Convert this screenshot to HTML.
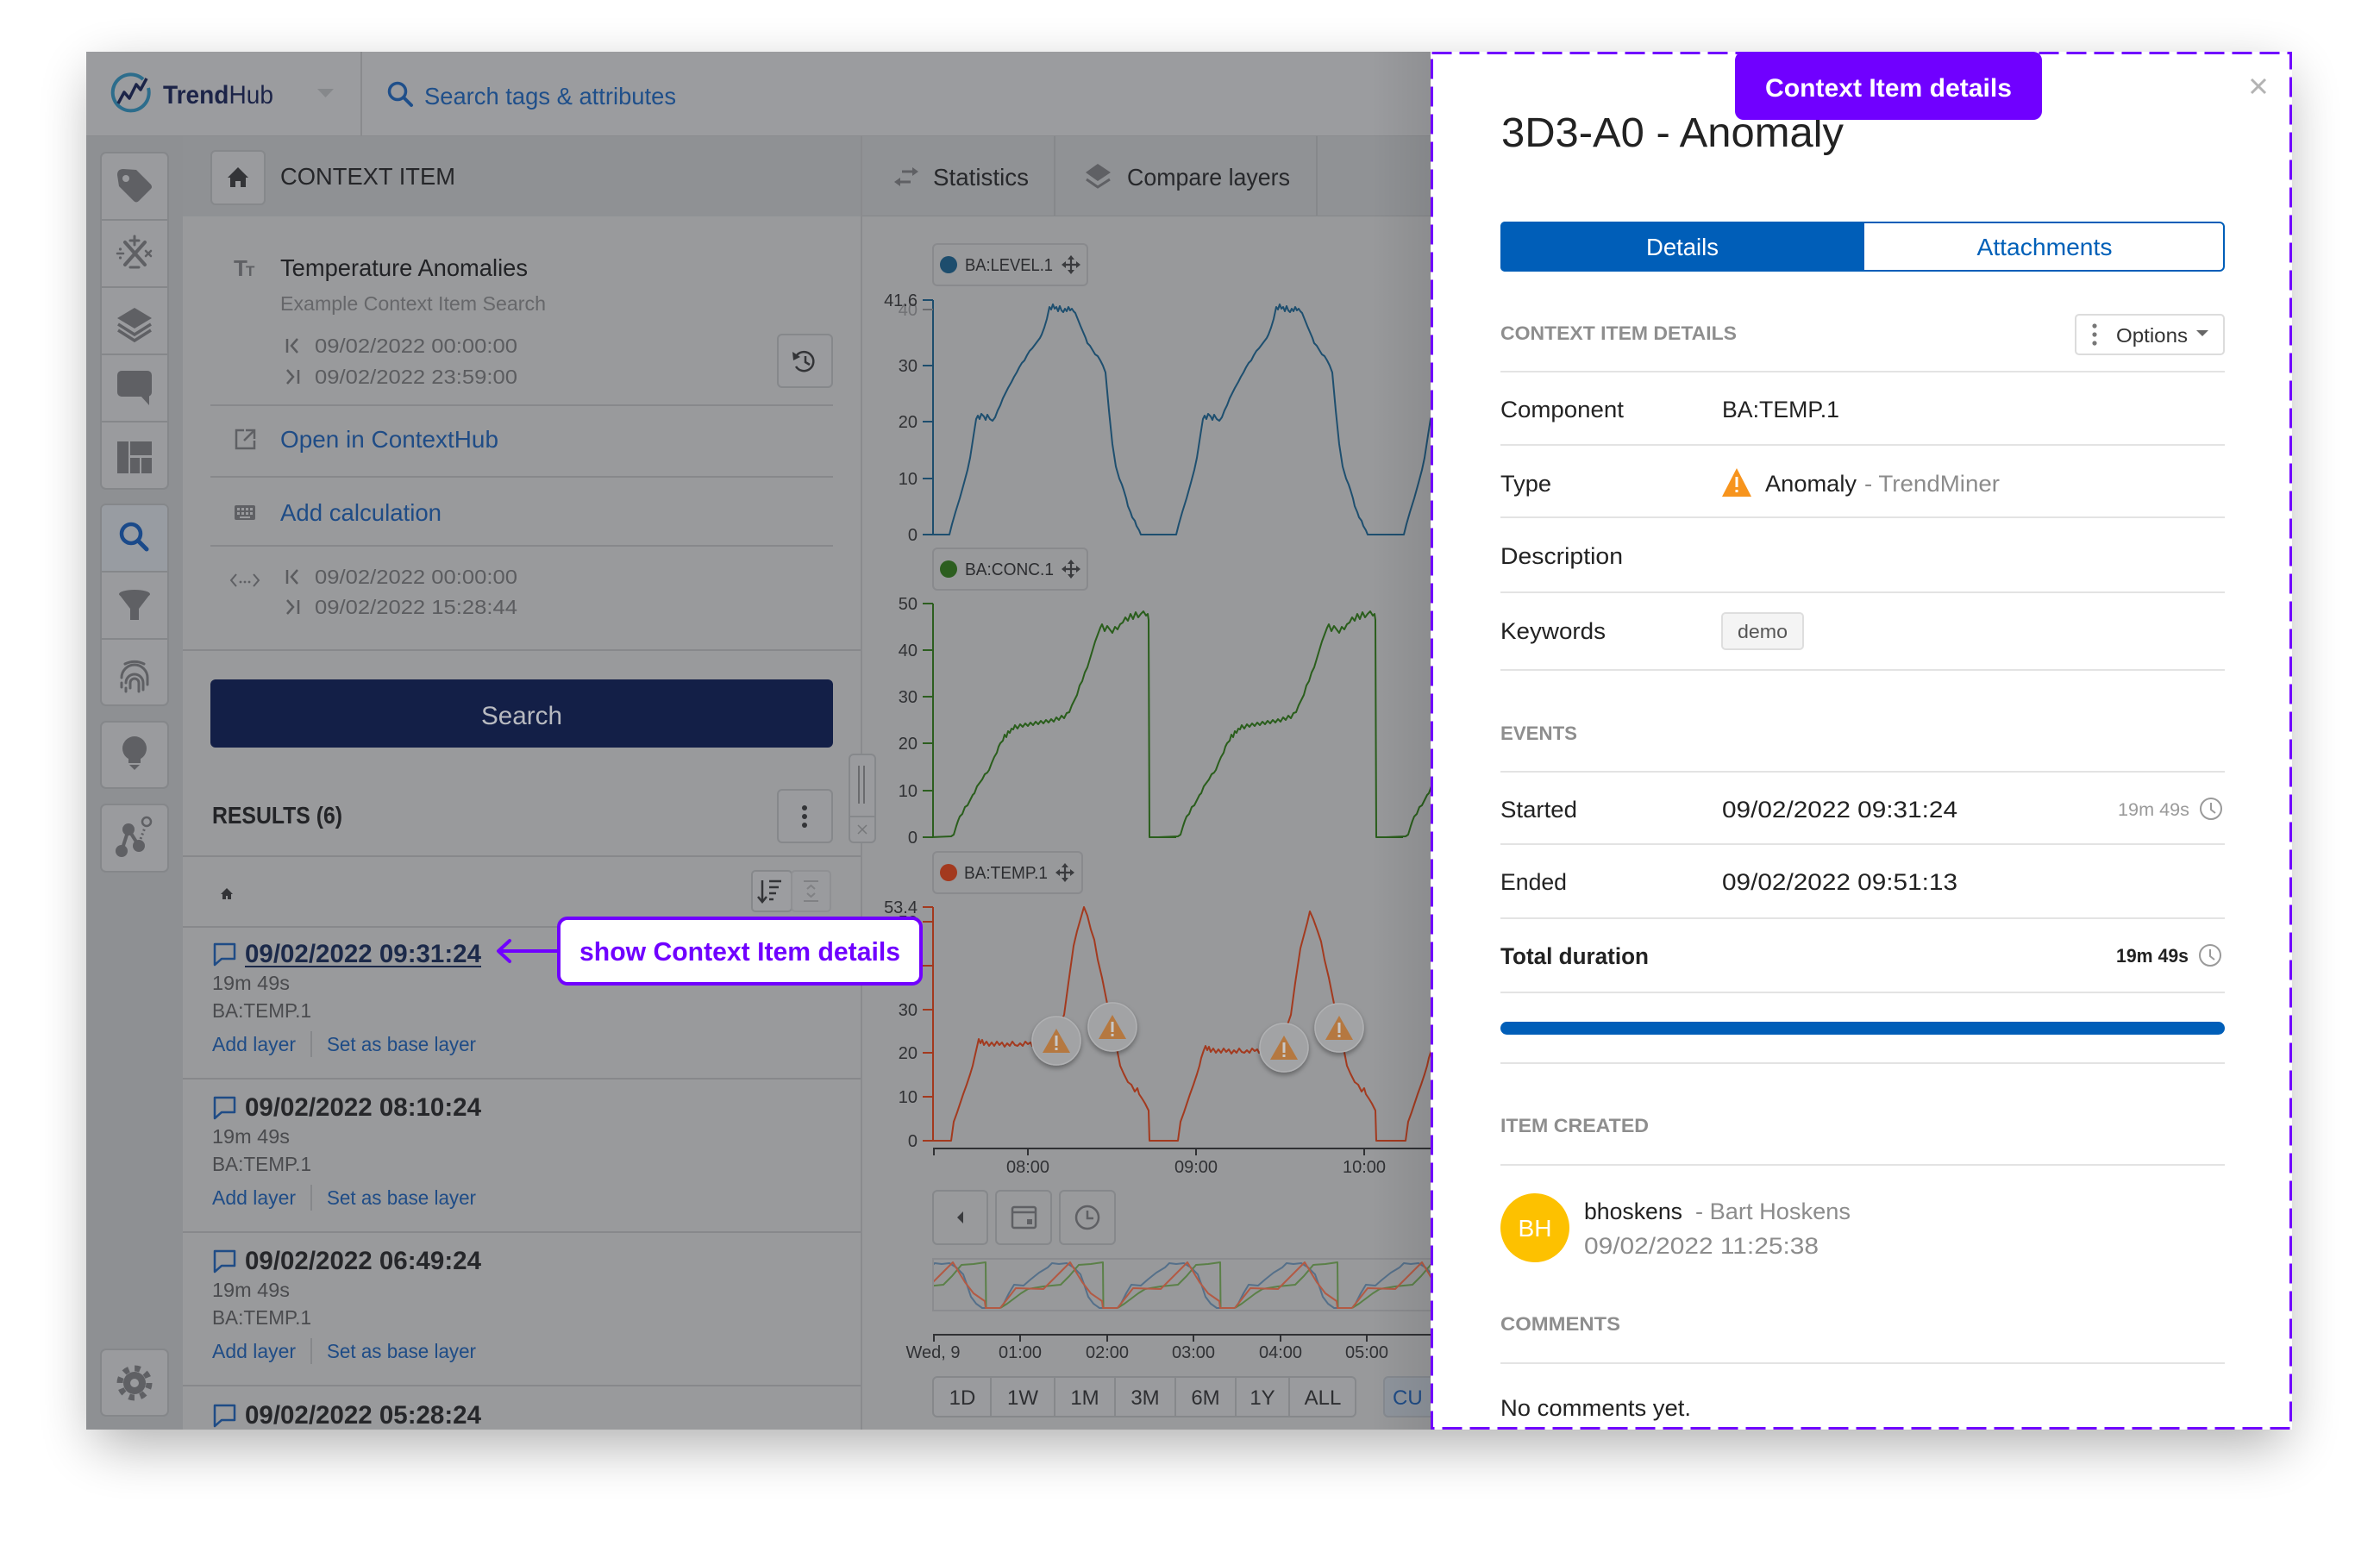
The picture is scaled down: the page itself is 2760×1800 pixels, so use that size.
<!DOCTYPE html>
<html><head><meta charset="utf-8">
<style>
html,body{margin:0;padding:0;background:#fff;}
svg{display:block;font-family:"Liberation Sans",sans-serif;}
</style></head><body>
<svg width="2760" height="1800" viewBox="0 0 2760 1800" xmlns="http://www.w3.org/2000/svg">
<defs>
<filter id="wsh" x="-10%" y="-10%" width="120%" height="130%"><feGaussianBlur stdDeviation="32"/></filter>
<filter id="msh" x="-50%" y="-50%" width="200%" height="200%"><feDropShadow dx="0" dy="3" stdDeviation="3" flood-color="#000" flood-opacity="0.35"/></filter>
<clipPath id="cc"><rect x="1000" y="251" width="659" height="1407"/></clipPath>
<clipPath id="nc"><rect x="1083" y="1461" width="576" height="58"/></clipPath>
<linearGradient id="pg" x1="0" x2="1" y1="0" y2="0"><stop offset="0" stop-color="#000" stop-opacity="0"/><stop offset="1" stop-color="#000" stop-opacity="0.08"/></linearGradient>
</defs>

<!-- window shadow -->
<rect x="110" y="85" width="2540" height="1590" fill="#000" opacity="0.32" filter="url(#wsh)"/>

<!-- ===== TOP BAR ===== -->
<rect x="100" y="60" width="1559" height="98" fill="#9b9c9f"/>
<line x1="100" y1="158" x2="1659" y2="158" stroke="#8b8c8f" stroke-width="2"/>
<path d="M166,92 A21,21 0 1 0 172,102" stroke="#2d6d8c" stroke-width="4" fill="none"/>
<polyline points="137,120 144,107 150,114 158,98 163,104 170,91" stroke="#1c2448" stroke-width="3.5" fill="none" stroke-linejoin="round"/>
<text x="189" y="120" font-size="30" fill="#1c2448" textLength="128" lengthAdjust="spacingAndGlyphs"><tspan font-weight="bold">Trend</tspan>Hub</text>
<polygon points="368,103 387,103 377.5,113" fill="#86888b"/>
<line x1="419" y1="60" x2="419" y2="158" stroke="#8a8b8e" stroke-width="2"/>
<circle cx="461" cy="106" r="9.5" stroke="#1f4f8a" stroke-width="3.5" fill="none"/>
<line x1="468" y1="113" x2="477" y2="122" stroke="#1f4f8a" stroke-width="4" stroke-linecap="round"/>
<text x="492" y="121" font-size="28" fill="#1f4f8a" textLength="292" lengthAdjust="spacingAndGlyphs">Search tags &amp; attributes</text>

<!-- ===== SIDEBAR ===== -->
<rect x="100" y="158" width="112" height="1500" fill="#8e9093"/>
<rect x="117" y="177" width="78" height="390" rx="6" fill="#9a9b9e" stroke="#85878a" stroke-width="2"/>
<g stroke="#85878a" stroke-width="2"><line x1="117" y1="255" x2="195" y2="255"/><line x1="117" y1="333" x2="195" y2="333"/><line x1="117" y1="411" x2="195" y2="411"/><line x1="117" y1="489" x2="195" y2="489"/></g>
<rect x="117" y="585" width="78" height="233" rx="6" fill="#9a9b9e" stroke="#85878a" stroke-width="2"/>
<path d="M118,663 L118,591 Q118,586 123,586 L189,586 Q194,586 194,591 L194,663 Z" fill="#989ca2"/>
<g stroke="#85878a" stroke-width="2"><line x1="117" y1="663" x2="195" y2="663"/><line x1="117" y1="741" x2="195" y2="741"/></g>
<rect x="117" y="837" width="78" height="77" rx="6" fill="#9a9b9e" stroke="#85878a" stroke-width="2"/>
<rect x="117" y="933" width="78" height="78" rx="6" fill="#9a9b9e" stroke="#85878a" stroke-width="2"/>
<rect x="117" y="1565" width="78" height="77" rx="6" fill="#9a9b9e" stroke="#85878a" stroke-width="2"/>
<!-- icons -->
<g fill="#5f6064">
<path d="M136,203 Q136,196 143,196 L158,197 L175,214 Q177,217 175,219 L161,233 Q158,236 155,233 L138,216 Z"/>
<circle cx="146" cy="207" r="4" fill="#9a9b9e"/>
</g>
<g stroke="#5f6064" stroke-width="4" stroke-linecap="round">
<line x1="145" y1="281" x2="168" y2="307"/><line x1="168" y1="281" x2="145" y2="307"/>
<line x1="156" y1="274" x2="156" y2="284" stroke-width="3"/><line x1="151" y1="279" x2="161" y2="279" stroke-width="3"/>
<line x1="151" y1="310" x2="161" y2="310" stroke-width="3"/>
<line x1="169" y1="291" x2="175" y2="297" stroke-width="2.5"/><line x1="175" y1="291" x2="169" y2="297" stroke-width="2.5"/>
<line x1="136" y1="294" x2="143" y2="294" stroke-width="2.5"/>
</g>
<circle cx="139.5" cy="289" r="1.6" fill="#5f6064"/><circle cx="139.5" cy="299" r="1.6" fill="#5f6064"/>
<polygon points="136,369 156,357 176,369 156,381" fill="#5f6064"/>
<polyline points="137,376 156,388 175,376" stroke="#5f6064" stroke-width="3.5" fill="none"/>
<polyline points="137,383 156,395 175,383" stroke="#5f6064" stroke-width="3.5" fill="none"/>
<rect x="136" y="430" width="40" height="30" rx="5" fill="#5f6064"/>
<polygon points="163,459 173,459 173,470" fill="#5f6064"/>
<g fill="#5f6064"><rect x="136" y="512" width="13" height="37"/><rect x="151" y="512" width="25" height="16"/><rect x="151" y="531" width="11" height="18"/><rect x="164" y="531" width="12" height="18"/></g>
<circle cx="152" cy="619" r="11" stroke="#1b4a8a" stroke-width="4.5" fill="none"/>
<line x1="160" y1="627" x2="170" y2="637" stroke="#1b4a8a" stroke-width="5" stroke-linecap="round"/>
<ellipse cx="156" cy="689" rx="18" ry="5" fill="#5f6064"/>
<polygon points="138,689 174,689 161,706 161,719 151,719 151,706" fill="#5f6064"/>
<path d="M141,786 a15,15 0 0 1 30,0 v8 M146,792 a10,10 0 0 1 20,0 v8 M151,798 v-6 a5,5 0 0 1 10,0 v10 M141,792 v5 M146,798 v4 M145,770 a20,16 0 0 1 22,0" stroke="#5f6064" stroke-width="3" fill="none" stroke-linecap="round"/>
<circle cx="156" cy="868" r="14" fill="#5f6064"/><rect x="149" y="879" width="14" height="6" fill="#5f6064"/><polygon points="150,887 162,887 156,893" fill="#5f6064"/>
<g stroke="#5f6064" stroke-width="4"><line x1="141" y1="987" x2="149" y2="962"/><line x1="149" y1="962" x2="161" y2="981"/></g>
<g fill="#5f6064"><circle cx="141" cy="987" r="7"/><circle cx="149" cy="962" r="7"/><circle cx="161" cy="981" r="7"/></g>
<circle cx="170" cy="953" r="5" stroke="#5f6064" stroke-width="2.5" fill="none"/>
<line x1="163" y1="973" x2="168" y2="960" stroke="#5f6064" stroke-width="3" stroke-dasharray="2 3"/>
<circle cx="156" cy="1604" r="17" stroke="#5f6064" stroke-width="7" fill="none" stroke-dasharray="6.5 6.85"/>
<circle cx="156" cy="1604" r="13" fill="#5f6064"/><circle cx="156" cy="1604" r="5" fill="#9a9b9e"/>

<!-- ===== CONTEXT HEADER ===== -->
<rect x="212" y="158" width="788" height="93" fill="#8f9194"/>
<rect x="245" y="175" width="62" height="62" rx="5" fill="#9a9b9e" stroke="#86888b" stroke-width="2"/>
<polygon points="264,206 276,194 288,206 285,206 285,217 279,217 279,210 273,210 273,217 267,217 267,206" fill="#333437"/>
<text x="325" y="214" font-size="28" fill="#252629" textLength="203" lengthAdjust="spacingAndGlyphs">CONTEXT ITEM</text>

<!-- ===== LEFT PANEL CONTENT ===== -->
<rect x="212" y="251" width="788" height="1407" fill="#999a9c"/>
<line x1="999" y1="158" x2="999" y2="1658" stroke="#8a8b8e" stroke-width="2"/>
<text x="271" y="320" font-size="26" font-weight="bold" fill="#5f6064">T</text><text x="285" y="320" font-size="17" font-weight="bold" fill="#5f6064">T</text>
<text x="325" y="320" font-size="28" fill="#222326" textLength="287" lengthAdjust="spacingAndGlyphs">Temperature Anomalies</text>
<text x="325" y="360" font-size="23" fill="#66676a" textLength="308" lengthAdjust="spacingAndGlyphs">Example Context Item Search</text>
<g stroke="#5b5c5f" stroke-width="2.5" fill="none">
<line x1="333" y1="393" x2="333" y2="409"/><polyline points="345,393 338,401 345,409"/>
<polyline points="333,429 340,437 333,445"/><line x1="346" y1="429" x2="346" y2="445"/>
<line x1="333" y1="661" x2="333" y2="677"/><polyline points="345,661 338,669 345,677"/>
<polyline points="333,696 340,704 333,712"/><line x1="346" y1="696" x2="346" y2="712"/>
</g>
<g font-size="23" fill="#5b5c5f">
<text x="365" y="409" textLength="235" lengthAdjust="spacingAndGlyphs">09/02/2022 00:00:00</text>
<text x="365" y="445" textLength="235" lengthAdjust="spacingAndGlyphs">09/02/2022 23:59:00</text>
<text x="365" y="677" textLength="235" lengthAdjust="spacingAndGlyphs">09/02/2022 00:00:00</text>
<text x="365" y="712" textLength="235" lengthAdjust="spacingAndGlyphs">09/02/2022 15:28:44</text>
</g>
<rect x="902" y="388" width="63" height="61" rx="5" fill="#9a9b9e" stroke="#86888b" stroke-width="2"/>
<path d="M924,412 A11,11 0 1 1 923,425" stroke="#333437" stroke-width="2.5" fill="none"/>
<polygon points="919,408 928,414 920,418" fill="#333437"/>
<polyline points="934,413 934,420 939,423" stroke="#333437" stroke-width="2.5" fill="none"/>
<g stroke="#87888b" stroke-width="2"><line x1="244" y1="470" x2="966" y2="470"/><line x1="244" y1="553" x2="966" y2="553"/><line x1="244" y1="633" x2="966" y2="633"/><line x1="212" y1="754" x2="1000" y2="754"/></g>
<path d="M283,499 L274,499 L274,520 L295,520 L295,511" stroke="#5f6064" stroke-width="2.5" fill="none"/>
<polyline points="285,499 295,499 295,509" stroke="#5f6064" stroke-width="2.5" fill="none"/><line x1="295" y1="499" x2="283" y2="511" stroke="#5f6064" stroke-width="2.5"/>
<text x="325" y="519" font-size="28" fill="#1f4c86" textLength="253" lengthAdjust="spacingAndGlyphs">Open in ContextHub</text>
<rect x="272" y="586" width="24" height="17" rx="2" fill="#5f6064"/>
<g fill="#9a9b9e"><rect x="275" y="589" width="3" height="3"/><rect x="280" y="589" width="3" height="3"/><rect x="285" y="589" width="3" height="3"/><rect x="290" y="589" width="3" height="3"/><rect x="275" y="594" width="3" height="3"/><rect x="280" y="594" width="3" height="3"/><rect x="285" y="594" width="3" height="3"/><rect x="290" y="594" width="3" height="3"/><rect x="278" y="599" width="12" height="2"/></g>
<text x="325" y="604" font-size="28" fill="#1f4c86" textLength="187" lengthAdjust="spacingAndGlyphs">Add calculation</text>
<polyline points="274,666 268,673 274,680" stroke="#5f6064" stroke-width="2" fill="none"/><polyline points="294,666 300,673 294,680" stroke="#5f6064" stroke-width="2" fill="none"/>
<g fill="#5f6064"><circle cx="279" cy="675" r="1.4"/><circle cx="284" cy="675" r="1.4"/><circle cx="289" cy="675" r="1.4"/></g>
<rect x="244" y="788" width="722" height="79" rx="6" fill="#131f47"/>
<text x="605" y="840" font-size="30" fill="#b8bac0" text-anchor="middle" textLength="94" lengthAdjust="spacingAndGlyphs">Search</text>
<text x="246" y="955" font-size="28" font-weight="bold" fill="#232427" textLength="151" lengthAdjust="spacingAndGlyphs">RESULTS (6)</text>
<rect x="902" y="916" width="63" height="61" rx="5" fill="#9a9b9e" stroke="#86888b" stroke-width="2"/>
<g fill="#333437"><circle cx="933" cy="937" r="3"/><circle cx="933" cy="947" r="3"/><circle cx="933" cy="957" r="3"/></g>
<line x1="212" y1="993" x2="1000" y2="993" stroke="#87888b" stroke-width="2"/>
<polygon points="256,1037 263,1030 270,1037 268,1037 268,1043 264,1043 264,1039 262,1039 262,1043 258,1043 258,1037" fill="#333437"/>
<rect x="872" y="1010" width="46" height="47" rx="4" fill="#9c9da0" stroke="#86888b" stroke-width="2"/>
<rect x="918" y="1010" width="45" height="47" rx="4" fill="#9a9b9e" stroke="#8f9093" stroke-width="2"/>
<g stroke="#333437" stroke-width="2.5"><line x1="884" y1="1021" x2="884" y2="1046"/><polyline points="879,1040 884,1046 889,1040" fill="none"/><line x1="892" y1="1022" x2="906" y2="1022"/><line x1="892" y1="1029" x2="903" y2="1029"/><line x1="892" y1="1036" x2="900" y2="1036"/><line x1="892" y1="1043" x2="897" y2="1043"/></g>
<g stroke="#808184" stroke-width="2"><line x1="932" y1="1022" x2="949" y2="1022"/><line x1="932" y1="1045" x2="949" y2="1045"/><polyline points="936,1031 940.5,1027 945,1031" fill="none"/><polyline points="936,1036 940.5,1040 945,1036" fill="none"/></g>
<line x1="212" y1="1075" x2="1000" y2="1075" stroke="#87888b" stroke-width="2"/>

<!-- result rows -->
<g stroke="#87888b" stroke-width="2"><line x1="212" y1="1251" x2="1000" y2="1251"/><line x1="212" y1="1429" x2="1000" y2="1429"/><line x1="212" y1="1607" x2="1000" y2="1607"/></g>
<g>
<path d="M249,1095 h23 v17 h-15 l-8,7 z" stroke="#1f4c86" stroke-width="2.5" fill="none" stroke-linejoin="round"/>
<text x="284" y="1116" font-size="30" font-weight="bold" fill="#1c2a4a" textLength="274" lengthAdjust="spacingAndGlyphs">09/02/2022 09:31:24</text>
<line x1="284" y1="1121" x2="558" y2="1121" stroke="#1c2a4a" stroke-width="2"/>
<text x="246" y="1148" font-size="23" fill="#4a4b4e" textLength="90" lengthAdjust="spacingAndGlyphs">19m 49s</text>
<text x="246" y="1180" font-size="23" fill="#4a4b4e" textLength="115" lengthAdjust="spacingAndGlyphs">BA:TEMP.1</text>
<text x="246" y="1219" font-size="23" fill="#1f4c86" textLength="97" lengthAdjust="spacingAndGlyphs">Add layer</text>
<line x1="361" y1="1196" x2="361" y2="1226" stroke="#86888b" stroke-width="2"/>
<text x="379" y="1219" font-size="23" fill="#1f4c86" textLength="173" lengthAdjust="spacingAndGlyphs">Set as base layer</text>
</g>
<g transform="translate(0,178)">
<path d="M249,1095 h23 v17 h-15 l-8,7 z" stroke="#1f4c86" stroke-width="2.5" fill="none" stroke-linejoin="round"/>
<text x="284" y="1116" font-size="30" font-weight="bold" fill="#26272a" textLength="274" lengthAdjust="spacingAndGlyphs">09/02/2022 08:10:24</text>
<text x="246" y="1148" font-size="23" fill="#4a4b4e" textLength="90" lengthAdjust="spacingAndGlyphs">19m 49s</text>
<text x="246" y="1180" font-size="23" fill="#4a4b4e" textLength="115" lengthAdjust="spacingAndGlyphs">BA:TEMP.1</text>
<text x="246" y="1219" font-size="23" fill="#1f4c86" textLength="97" lengthAdjust="spacingAndGlyphs">Add layer</text>
<line x1="361" y1="1196" x2="361" y2="1226" stroke="#86888b" stroke-width="2"/>
<text x="379" y="1219" font-size="23" fill="#1f4c86" textLength="173" lengthAdjust="spacingAndGlyphs">Set as base layer</text>
</g>
<g transform="translate(0,356)">
<path d="M249,1095 h23 v17 h-15 l-8,7 z" stroke="#1f4c86" stroke-width="2.5" fill="none" stroke-linejoin="round"/>
<text x="284" y="1116" font-size="30" font-weight="bold" fill="#26272a" textLength="274" lengthAdjust="spacingAndGlyphs">09/02/2022 06:49:24</text>
<text x="246" y="1148" font-size="23" fill="#4a4b4e" textLength="90" lengthAdjust="spacingAndGlyphs">19m 49s</text>
<text x="246" y="1180" font-size="23" fill="#4a4b4e" textLength="115" lengthAdjust="spacingAndGlyphs">BA:TEMP.1</text>
<text x="246" y="1219" font-size="23" fill="#1f4c86" textLength="97" lengthAdjust="spacingAndGlyphs">Add layer</text>
<line x1="361" y1="1196" x2="361" y2="1226" stroke="#86888b" stroke-width="2"/>
<text x="379" y="1219" font-size="23" fill="#1f4c86" textLength="173" lengthAdjust="spacingAndGlyphs">Set as base layer</text>
</g>
<g transform="translate(0,535)">
<path d="M249,1095 h23 v17 h-15 l-8,7 z" stroke="#1f4c86" stroke-width="2.5" fill="none" stroke-linejoin="round"/>
<text x="284" y="1116" font-size="30" font-weight="bold" fill="#26272a" textLength="274" lengthAdjust="spacingAndGlyphs">09/02/2022 05:28:24</text>
</g>

<!-- ===== TABS BAR (chart top) ===== -->
<rect x="1000" y="158" width="659" height="93" fill="#909295"/>
<line x1="1000" y1="251" x2="1659" y2="251" stroke="#85878a" stroke-width="2"/>
<line x1="1223" y1="158" x2="1223" y2="251" stroke="#86888b" stroke-width="2"/>
<line x1="1527" y1="158" x2="1527" y2="251" stroke="#86888b" stroke-width="2"/>
<g stroke="#5f6064" stroke-width="3" fill="#5f6064">
<line x1="1046" y1="199" x2="1060" y2="199"/><polygon points="1058,194 1065,199 1058,204" stroke="none"/>
<line x1="1042" y1="211" x2="1056" y2="211"/><polygon points="1044,206 1037,211 1044,216" stroke="none"/>
</g>
<text x="1082" y="215" font-size="28" fill="#27282b" textLength="111" lengthAdjust="spacingAndGlyphs">Statistics</text>
<polygon points="1259,200 1273,190 1288,200 1273,210" fill="#5f6064"/>
<polyline points="1260,208 1273,217 1287,208" stroke="#5f6064" stroke-width="3" fill="none"/>
<text x="1307" y="215" font-size="28" fill="#27282b" textLength="189" lengthAdjust="spacingAndGlyphs">Compare layers</text>

<!-- ===== CHART AREA ===== -->
<rect x="1000" y="251" width="659" height="1407" fill="#98999b"/>
<line x1="999" y1="251" x2="999" y2="1658" stroke="#8a8b8e" stroke-width="2"/>
<!-- chips -->
<g fill="none" stroke="#898a8d" stroke-width="2">
<rect x="1082" y="283" width="179" height="48" rx="5"/>
<rect x="1082" y="636" width="179" height="48" rx="5"/>
<rect x="1082" y="988" width="173" height="48" rx="5"/>
</g>
<circle cx="1100" cy="307" r="10" fill="#1d4d6d"/>
<circle cx="1100" cy="660" r="10" fill="#2c5e1f"/>
<circle cx="1100" cy="1012" r="10" fill="#a3391e"/>
<g font-size="20" fill="#2c2d30">
<text x="1119" y="314" textLength="102" lengthAdjust="spacingAndGlyphs">BA:LEVEL.1</text>
<text x="1119" y="667" textLength="103" lengthAdjust="spacingAndGlyphs">BA:CONC.1</text>
<text x="1118" y="1019" textLength="97" lengthAdjust="spacingAndGlyphs">BA:TEMP.1</text>
</g>
<g stroke="#3a3b3e" stroke-width="2.2" fill="#3a3b3e">
<g transform="translate(1242,307)"><line x1="-9" y1="0" x2="9" y2="0"/><line x1="0" y1="-9" x2="0" y2="9"/><polygon points="-11,0 -6,-4 -6,4" stroke="none"/><polygon points="11,0 6,-4 6,4" stroke="none"/><polygon points="0,-11 -4,-6 4,-6" stroke="none"/><polygon points="0,11 -4,6 4,6" stroke="none"/></g>
<g transform="translate(1242,660)"><line x1="-9" y1="0" x2="9" y2="0"/><line x1="0" y1="-9" x2="0" y2="9"/><polygon points="-11,0 -6,-4 -6,4" stroke="none"/><polygon points="11,0 6,-4 6,4" stroke="none"/><polygon points="0,-11 -4,-6 4,-6" stroke="none"/><polygon points="0,11 -4,6 4,6" stroke="none"/></g>
<g transform="translate(1235,1012)"><line x1="-9" y1="0" x2="9" y2="0"/><line x1="0" y1="-9" x2="0" y2="9"/><polygon points="-11,0 -6,-4 -6,4" stroke="none"/><polygon points="11,0 6,-4 6,4" stroke="none"/><polygon points="0,-11 -4,-6 4,-6" stroke="none"/><polygon points="0,11 -4,6 4,6" stroke="none"/></g>
</g>

<!-- axes -->
<g stroke="#1d4d6d" stroke-width="2">
<line x1="1082" y1="348" x2="1082" y2="620"/>
<line x1="1070" y1="348" x2="1082" y2="348"/><line x1="1070" y1="424" x2="1082" y2="424"/><line x1="1070" y1="489" x2="1082" y2="489"/><line x1="1070" y1="555" x2="1082" y2="555"/><line x1="1070" y1="620" x2="1082" y2="620"/>
</g>
<line x1="1070" y1="359" x2="1082" y2="359" stroke="#6b6c6f" stroke-width="2"/>
<g stroke="#2c5e1f" stroke-width="2">
<line x1="1082" y1="700" x2="1082" y2="971"/>
<line x1="1070" y1="700" x2="1082" y2="700"/><line x1="1070" y1="754" x2="1082" y2="754"/><line x1="1070" y1="808" x2="1082" y2="808"/><line x1="1070" y1="862" x2="1082" y2="862"/><line x1="1070" y1="917" x2="1082" y2="917"/><line x1="1070" y1="971" x2="1082" y2="971"/>
</g>
<g stroke="#a3391e" stroke-width="2">
<line x1="1082" y1="1052" x2="1082" y2="1323"/>
<line x1="1070" y1="1052" x2="1082" y2="1052"/><line x1="1070" y1="1069" x2="1082" y2="1069"/><line x1="1070" y1="1120" x2="1082" y2="1120"/><line x1="1070" y1="1171" x2="1082" y2="1171"/><line x1="1070" y1="1221" x2="1082" y2="1221"/><line x1="1070" y1="1272" x2="1082" y2="1272"/><line x1="1070" y1="1323" x2="1082" y2="1323"/>
</g>
<g font-size="20" fill="#303134" text-anchor="end">
<text x="1064" y="366" fill="#707174">40</text>
<text x="1064" y="355">41.6</text>
<text x="1064" y="431">30</text><text x="1064" y="496">20</text><text x="1064" y="562">10</text><text x="1064" y="627">0</text>
<text x="1064" y="707">50</text><text x="1064" y="761">40</text><text x="1064" y="815">30</text><text x="1064" y="869">20</text><text x="1064" y="924">10</text><text x="1064" y="978">0</text>
<text x="1064" y="1059">53.4</text><text x="1064" y="1076">50</text><text x="1064" y="1127">40</text><text x="1064" y="1178">30</text><text x="1064" y="1228">20</text><text x="1064" y="1279">10</text><text x="1064" y="1330">0</text>
</g>

<!-- series -->
<g clip-path="url(#cc)" fill="none" stroke-width="2" stroke-linejoin="round">
<g stroke="#1e4f6f">
<path id="bl" transform="translate(1101,0)" d="M-19,620 L0,620 L3,608 L7,594 L12,578 L17,560 L21,545 L24,531 L28,505 L31,486 L33,482 L35,486 L37,480 L40,483 L42,487 L44,481 L47,486 L50,488 L53,484 L56,476 L59,470 L62,462 L65,456 L68,450 L72,443 L75,437 L78,432 L81,426 L84,421 L87,418 L90,412 L93,407 L96,404 L99,400 L102,396 L105,392 L107,388 L110,380 L113,370 L116,356 L118,359 L120,353 L122,358 L124,356 L126,361 L128,355 L130,360 L132,362 L134,358 L136,361 L138,356 L140,360 L142,358 L144,361 L146,363 L148,368 L150,373 L152,378 L155,385 L158,392 L160,398 L163,401 L166,406 L169,411 L172,413 L175,418 L178,424 L181,432 L185,476 L189,515 L193,541 L197,555 L200,562 L202,568 L205,578 L207,587 L210,594 L212,600 L215,604 L217,610 L220,615 L222,620 L263,620"/>
<path transform="translate(1364,0)" d="M-19,620 L0,620 L3,608 L7,594 L12,578 L17,560 L21,545 L24,531 L28,505 L31,486 L33,482 L35,486 L37,480 L40,483 L42,487 L44,481 L47,486 L50,488 L53,484 L56,476 L59,470 L62,462 L65,456 L68,450 L72,443 L75,437 L78,432 L81,426 L84,421 L87,418 L90,412 L93,407 L96,404 L99,400 L102,396 L105,392 L107,388 L110,380 L113,370 L116,356 L118,359 L120,353 L122,358 L124,356 L126,361 L128,355 L130,360 L132,362 L134,358 L136,361 L138,356 L140,360 L142,358 L144,361 L146,363 L148,368 L150,373 L152,378 L155,385 L158,392 L160,398 L163,401 L166,406 L169,411 L172,413 L175,418 L178,424 L181,432 L185,476 L189,515 L193,541 L197,555 L200,562 L202,568 L205,578 L207,587 L210,594 L212,600 L215,604 L217,610 L220,615 L222,620 L263,620"/>
<path transform="translate(1628,0)" d="M-19,620 L0,620 L3,608 L7,594 L12,578 L17,560 L21,545 L24,531 L28,505 L31,486 L33,482 L35,486 L37,480 L40,483"/>
</g>
<g stroke="#2a5e1c">
<path transform="translate(1101,0)" d="M-21,971 L2,970 L5,968 L8,958 L10,952 L12,947 L15,944 L18,936 L21,934 L24,928 L27,922 L29,920 L32,912 L35,908 L38,904 L41,898 L44,896 L46,893 L49,885 L52,878 L55,873 L57,866 L59,862 L62,859 L64,852 L66,855 L68,848 L70,850 L72,845 L74,846 L76,841 L79,845 L82,840 L85,843 L88,839 L91,842 L94,838 L97,841 L100,837 L103,840 L106,836 L109,839 L112,835 L115,838 L118,834 L121,837 L124,832 L127,835 L130,830 L133,833 L136,827 L139,826 L142,818 L145,812 L148,806 L151,795 L154,790 L157,780 L160,774 L163,764 L166,754 L169,744 L172,736 L175,728 L177,724 L180,732 L183,726 L186,730 L189,734 L192,727 L195,730 L198,724 L201,722 L204,716 L207,720 L210,712 L213,718 L216,710 L219,716 L222,712 L225,709 L228,714 L230,712 L231,719 L232,971 L263,971"/>
<path transform="translate(1364,0)" d="M-21,971 L2,970 L5,968 L8,958 L10,952 L12,947 L15,944 L18,936 L21,934 L24,928 L27,922 L29,920 L32,912 L35,908 L38,904 L41,898 L44,896 L46,893 L49,885 L52,878 L55,873 L57,866 L59,862 L62,859 L64,852 L66,855 L68,848 L70,850 L72,845 L74,846 L76,841 L79,845 L82,840 L85,843 L88,839 L91,842 L94,838 L97,841 L100,837 L103,840 L106,836 L109,839 L112,835 L115,838 L118,834 L121,837 L124,832 L127,835 L130,830 L133,833 L136,827 L139,826 L142,818 L145,812 L148,806 L151,795 L154,790 L157,780 L160,774 L163,764 L166,754 L169,744 L172,736 L175,728 L177,724 L180,732 L183,726 L186,730 L189,734 L192,727 L195,730 L198,724 L201,722 L204,716 L207,720 L210,712 L213,718 L216,710 L219,716 L222,712 L225,709 L228,714 L230,712 L231,719 L232,971 L263,971"/>
<path transform="translate(1628,0)" d="M-21,971 L2,970 L5,968 L8,958 L10,952 L12,947 L15,944 L18,936 L21,934 L24,928 L27,922 L29,920 L32,912 L35,908"/>
</g>
<g stroke="#a33a1f">
<path transform="translate(1101,0)" d="M-21,1323 L2,1323 L5,1301 L9,1290 L13,1278 L16,1269 L20,1258 L24,1246 L27,1236 L29,1227 L32,1214 L34,1205 L36,1210 L38,1206 L40,1212 L43,1208 L46,1213 L49,1209 L52,1213 L55,1208 L58,1212 L61,1209 L64,1214 L67,1210 L70,1213 L73,1208 L76,1212 L79,1213 L82,1210 L85,1213 L88,1208 L91,1211 L94,1209 L96,1213 L100,1208 L105,1210 L110,1206 L118,1200 L125,1195 L133,1177 L138,1140 L144,1097 L148,1080 L152,1066 L156,1052 L160,1062 L164,1078 L168,1090 L172,1113 L177,1134 L183,1164 L188,1185 L193,1210 L198,1236 L202,1245 L207,1255 L211,1258 L215,1266 L218,1262 L220,1269 L224,1275 L227,1280 L229,1284 L231,1288 L232,1323 L263,1323"/>
<path transform="translate(1364,0)" d="M-21,1323 L2,1323 L5,1301 L9,1290 L13,1278 L16,1269 L20,1258 L24,1246 L27,1236 L29,1227 L32,1218 L34,1213 L36,1218 L38,1214 L40,1220 L43,1216 L46,1221 L49,1217 L52,1221 L55,1216 L58,1220 L61,1217 L64,1222 L67,1218 L70,1221 L73,1216 L76,1220 L79,1221 L82,1218 L85,1221 L88,1216 L91,1219 L94,1217 L96,1221 L100,1216 L105,1218 L110,1214 L118,1208 L125,1200 L133,1177 L138,1140 L144,1100 L148,1085 L152,1070 L155,1057 L159,1066 L164,1080 L168,1092 L172,1113 L177,1134 L183,1164 L188,1185 L193,1210 L198,1236 L202,1245 L207,1255 L211,1258 L215,1266 L218,1262 L220,1269 L224,1275 L227,1280 L229,1284 L231,1288 L232,1323 L263,1323"/>
<path transform="translate(1628,0)" d="M-21,1323 L2,1323 L5,1301 L9,1290 L13,1278 L16,1269 L20,1258 L24,1246 L27,1236 L29,1227 L32,1218"/>
</g>
</g>

<!-- anomaly markers -->
<g filter="url(#msh)">
<circle cx="1225" cy="1207" r="28" fill="#a2a3a5" stroke="#b0b1b3" stroke-width="1.5"/>
<circle cx="1290" cy="1191" r="28" fill="#a2a3a5" stroke="#b0b1b3" stroke-width="1.5"/>
<circle cx="1489" cy="1215" r="28" fill="#a2a3a5" stroke="#b0b1b3" stroke-width="1.5"/>
<circle cx="1553" cy="1192" r="28" fill="#a2a3a5" stroke="#b0b1b3" stroke-width="1.5"/>
</g>
<g fill="#b57840">
<polygon points="1209,1221 1241,1221 1225,1193"/>
<polygon points="1274,1205 1306,1205 1290,1177"/>
<polygon points="1473,1229 1505,1229 1489,1201"/>
<polygon points="1537,1206 1569,1206 1553,1178"/>
</g>
<g fill="#c8c8c8">
<rect x="1223.5" y="1201" width="3" height="12"/><rect x="1223.5" y="1215" width="3" height="3"/>
<rect x="1288.5" y="1185" width="3" height="12"/><rect x="1288.5" y="1199" width="3" height="3"/>
<rect x="1487.5" y="1209" width="3" height="12"/><rect x="1487.5" y="1223" width="3" height="3"/>
<rect x="1551.5" y="1186" width="3" height="12"/><rect x="1551.5" y="1200" width="3" height="3"/>
</g>

<!-- x axis -->
<line x1="1082" y1="1332" x2="1659" y2="1332" stroke="#303134" stroke-width="2"/>
<g stroke="#303134" stroke-width="2"><line x1="1083" y1="1332" x2="1083" y2="1340"/><line x1="1192" y1="1332" x2="1192" y2="1340"/><line x1="1387" y1="1332" x2="1387" y2="1340"/><line x1="1582" y1="1332" x2="1582" y2="1340"/></g>
<g font-size="20" fill="#303134" text-anchor="middle"><text x="1192" y="1360">08:00</text><text x="1387" y="1360">09:00</text><text x="1582" y="1360">10:00</text></g>

<!-- control buttons -->
<g fill="#999a9c" stroke="#86888b" stroke-width="2">
<rect x="1082" y="1381" width="63" height="62" rx="5"/>
<rect x="1155" y="1381" width="64" height="62" rx="5"/>
<rect x="1229" y="1381" width="64" height="62" rx="5"/>
</g>
<polygon points="1117,1405 1117,1419 1110,1412" fill="#3a3b3e"/>
<rect x="1174" y="1400" width="27" height="24" rx="2" stroke="#5f6064" stroke-width="2.5" fill="none"/>
<line x1="1174" y1="1406" x2="1201" y2="1406" stroke="#5f6064" stroke-width="2.5"/>
<rect x="1191" y="1414" width="6" height="6" fill="#5f6064"/>
<circle cx="1261" cy="1412" r="13" stroke="#5f6064" stroke-width="2.5" fill="none"/>
<polyline points="1261,1404 1261,1413 1268,1413" stroke="#5f6064" stroke-width="2.5" fill="none"/>

<!-- navigator -->
<rect x="1082" y="1460" width="600" height="60" fill="none" stroke="#8b8c8f" stroke-width="2"/>
<g clip-path="url(#nc)" fill="none" stroke-width="2" stroke-linejoin="round">
<g id="ncy">
<path stroke="#55708a" d="M0,1517 L4,1512 L10,1500 L16,1490 L27,1491 L35,1484 L45,1476 L55,1470 L60,1465 L68,1466 L77,1465 L85,1470 L93,1478 L98,1492 L102,1504 L108,1512 L115,1517 L136,1517"/>
<path stroke="#5b8048" d="M0,1517 L8,1512 L16,1506 L24,1500 L32,1495 L50,1492 L70,1490 L80,1480 L91,1467 L105,1466 L119,1464 L119.5,1517 L136,1517"/>
<path stroke="#b35a44" d="M0,1517 L18,1494 L50,1495 L65,1480 L81,1464 L95,1487 L105,1500 L118,1509 L119,1517 L136,1517"/>
</g>
</g>
<g clip-path="url(#nc)" fill="none" stroke-width="2" stroke-linejoin="round">
<g transform="translate(1024,0)"><path stroke="#55708a" d="M0,1517 L4,1512 L10,1500 L16,1490 L27,1491 L35,1484 L45,1476 L55,1470 L60,1465 L68,1466 L77,1465 L85,1470 L93,1478 L98,1492 L102,1504 L108,1512 L115,1517 L136,1517"/><path stroke="#5b8048" d="M0,1517 L8,1512 L16,1506 L24,1500 L32,1495 L50,1492 L70,1490 L80,1480 L91,1467 L105,1466 L119,1464 L119.5,1517 L136,1517"/><path stroke="#b35a44" d="M0,1517 L18,1494 L50,1495 L65,1480 L81,1464 L95,1487 L105,1500 L118,1509 L119,1517 L136,1517"/></g>
<g transform="translate(1160,0)"><path stroke="#55708a" d="M0,1517 L4,1512 L10,1500 L16,1490 L27,1491 L35,1484 L45,1476 L55,1470 L60,1465 L68,1466 L77,1465 L85,1470 L93,1478 L98,1492 L102,1504 L108,1512 L115,1517 L136,1517"/><path stroke="#5b8048" d="M0,1517 L8,1512 L16,1506 L24,1500 L32,1495 L50,1492 L70,1490 L80,1480 L91,1467 L105,1466 L119,1464 L119.5,1517 L136,1517"/><path stroke="#b35a44" d="M0,1517 L18,1494 L50,1495 L65,1480 L81,1464 L95,1487 L105,1500 L118,1509 L119,1517 L136,1517"/></g>
<g transform="translate(1296,0)"><path stroke="#55708a" d="M0,1517 L4,1512 L10,1500 L16,1490 L27,1491 L35,1484 L45,1476 L55,1470 L60,1465 L68,1466 L77,1465 L85,1470 L93,1478 L98,1492 L102,1504 L108,1512 L115,1517 L136,1517"/><path stroke="#5b8048" d="M0,1517 L8,1512 L16,1506 L24,1500 L32,1495 L50,1492 L70,1490 L80,1480 L91,1467 L105,1466 L119,1464 L119.5,1517 L136,1517"/><path stroke="#b35a44" d="M0,1517 L18,1494 L50,1495 L65,1480 L81,1464 L95,1487 L105,1500 L118,1509 L119,1517 L136,1517"/></g>
<g transform="translate(1432,0)"><path stroke="#55708a" d="M0,1517 L4,1512 L10,1500 L16,1490 L27,1491 L35,1484 L45,1476 L55,1470 L60,1465 L68,1466 L77,1465 L85,1470 L93,1478 L98,1492 L102,1504 L108,1512 L115,1517 L136,1517"/><path stroke="#5b8048" d="M0,1517 L8,1512 L16,1506 L24,1500 L32,1495 L50,1492 L70,1490 L80,1480 L91,1467 L105,1466 L119,1464 L119.5,1517 L136,1517"/><path stroke="#b35a44" d="M0,1517 L18,1494 L50,1495 L65,1480 L81,1464 L95,1487 L105,1500 L118,1509 L119,1517 L136,1517"/></g>
<g transform="translate(1568,0)"><path stroke="#55708a" d="M0,1517 L4,1512 L10,1500 L16,1490 L27,1491 L35,1484 L45,1476 L55,1470 L60,1465 L68,1466 L77,1465 L85,1470 L93,1478 L98,1492 L102,1504 L108,1512 L115,1517 L136,1517"/><path stroke="#5b8048" d="M0,1517 L8,1512 L16,1506 L24,1500 L32,1495 L50,1492 L70,1490 L80,1480 L91,1467 L105,1466 L119,1464 L119.5,1517 L136,1517"/><path stroke="#b35a44" d="M0,1517 L18,1494 L50,1495 L65,1480 L81,1464 L95,1487 L105,1500 L118,1509 L119,1517 L136,1517"/></g>
</g>
<line x1="1082" y1="1548" x2="1659" y2="1548" stroke="#303134" stroke-width="2"/>
<g stroke="#303134" stroke-width="2"><line x1="1083" y1="1548" x2="1083" y2="1556"/><line x1="1183" y1="1548" x2="1183" y2="1556"/><line x1="1284" y1="1548" x2="1284" y2="1556"/><line x1="1384" y1="1548" x2="1384" y2="1556"/><line x1="1485" y1="1548" x2="1485" y2="1556"/><line x1="1585" y1="1548" x2="1585" y2="1556"/></g>
<g font-size="20" fill="#303134" text-anchor="middle"><text x="1082" y="1575">Wed, 9</text><text x="1183" y="1575">01:00</text><text x="1284" y="1575">02:00</text><text x="1384" y="1575">03:00</text><text x="1485" y="1575">04:00</text><text x="1585" y="1575">05:00</text></g>

<!-- range buttons -->
<rect x="1082" y="1597" width="490" height="46" rx="5" fill="#9a9b9e" stroke="#86888b" stroke-width="2"/>
<g stroke="#86888b" stroke-width="2"><line x1="1149" y1="1597" x2="1149" y2="1643"/><line x1="1223" y1="1597" x2="1223" y2="1643"/><line x1="1293" y1="1597" x2="1293" y2="1643"/><line x1="1363" y1="1597" x2="1363" y2="1643"/><line x1="1433" y1="1597" x2="1433" y2="1643"/><line x1="1495" y1="1597" x2="1495" y2="1643"/></g>
<g font-size="24" fill="#2e2f32" text-anchor="middle"><text x="1116" y="1629">1D</text><text x="1186" y="1629">1W</text><text x="1258" y="1629">1M</text><text x="1328" y="1629">3M</text><text x="1398" y="1629">6M</text><text x="1464" y="1629">1Y</text><text x="1534" y="1629">ALL</text></g>
<rect x="1605" y="1597" width="80" height="46" rx="5" fill="#8f959d" stroke="#868a90" stroke-width="2"/>
<text x="1615" y="1629" font-size="24" fill="#1f4c86">CU</text>

<!-- scroll handle -->
<rect x="985" y="875" width="30" height="102" rx="5" fill="#9a9b9e" stroke="#86888b" stroke-width="2"/>
<line x1="985" y1="947" x2="1015" y2="947" stroke="#86888b" stroke-width="2"/>
<line x1="996" y1="888" x2="996" y2="932" stroke="#6a6b6e" stroke-width="2"/><line x1="1002" y1="888" x2="1002" y2="932" stroke="#6a6b6e" stroke-width="2"/>
<line x1="995" y1="957" x2="1005" y2="967" stroke="#76777a" stroke-width="1.5"/><line x1="1005" y1="957" x2="995" y2="967" stroke="#76777a" stroke-width="1.5"/>

<!-- callout -->
<line x1="580" y1="1103" x2="646" y2="1103" stroke="#7000ff" stroke-width="4"/>
<polyline points="591,1091 578,1103 591,1115" stroke="#7000ff" stroke-width="4" fill="none" stroke-linecap="round" stroke-linejoin="round"/>
<rect x="648" y="1065" width="420" height="76" rx="10" fill="#fff" stroke="#7000ff" stroke-width="4"/>
<text x="858" y="1114" font-size="31" font-weight="bold" fill="#7000ff" text-anchor="middle" textLength="372" lengthAdjust="spacingAndGlyphs">show Context Item details</text>

<!-- ===== RIGHT PANEL ===== -->
<rect x="1590" y="60" width="69" height="1598" fill="url(#pg)"/>
<rect x="1659" y="60" width="999" height="1598" fill="#fff"/>
<rect x="1660.5" y="61.5" width="996" height="1595" fill="none" stroke="#7000ff" stroke-width="3" stroke-dasharray="23 9"/>
<text x="1741" y="170" font-size="48" fill="#222" textLength="397" lengthAdjust="spacingAndGlyphs">3D3-A0 - Anomaly</text>
<rect x="2012" y="60" width="356" height="79" rx="10" fill="#7000ff"/>
<text x="2190" y="112" font-size="30" font-weight="bold" fill="#fff" text-anchor="middle" textLength="286" lengthAdjust="spacingAndGlyphs">Context Item details</text>
<g stroke="#b3b3b3" stroke-width="3"><line x1="2611" y1="92" x2="2627" y2="108"/><line x1="2627" y1="92" x2="2611" y2="108"/></g>
<!-- tabs -->
<rect x="1741" y="258" width="838" height="56" rx="5" fill="#fff" stroke="#005eb8" stroke-width="2"/>
<rect x="1740" y="257" width="422" height="58" rx="5" fill="#005eb8"/>
<rect x="2150" y="257" width="12" height="58" fill="#005eb8"/>
<text x="1951" y="296" font-size="28" fill="#fff" text-anchor="middle" textLength="84" lengthAdjust="spacingAndGlyphs">Details</text>
<text x="2371" y="296" font-size="28" fill="#0060b8" text-anchor="middle" textLength="157" lengthAdjust="spacingAndGlyphs">Attachments</text>
<!-- section header -->
<g font-size="22" font-weight="bold" fill="#8e8e8e">
<text x="1740" y="394" textLength="274" lengthAdjust="spacingAndGlyphs">CONTEXT ITEM DETAILS</text>
<text x="1740" y="858" textLength="89" lengthAdjust="spacingAndGlyphs">EVENTS</text>
<text x="1740" y="1313" textLength="172" lengthAdjust="spacingAndGlyphs">ITEM CREATED</text>
<text x="1740" y="1543" textLength="139" lengthAdjust="spacingAndGlyphs">COMMENTS</text>
</g>
<rect x="2407" y="365" width="172" height="46" rx="4" fill="#fff" stroke="#dcdcdc" stroke-width="2"/>
<g fill="#777"><circle cx="2429" cy="378" r="2.6"/><circle cx="2429" cy="388" r="2.6"/><circle cx="2429" cy="398" r="2.6"/></g>
<text x="2454" y="397" font-size="23" fill="#333" textLength="83" lengthAdjust="spacingAndGlyphs">Options</text>
<polygon points="2547,383 2561,383 2554,390" fill="#666"/>
<g stroke="#e3e3e3" stroke-width="2">
<line x1="1740" y1="431" x2="2580" y2="431"/><line x1="1740" y1="516" x2="2580" y2="516"/><line x1="1740" y1="600" x2="2580" y2="600"/><line x1="1740" y1="687" x2="2580" y2="687"/><line x1="1740" y1="777" x2="2580" y2="777"/>
<line x1="1740" y1="895" x2="2580" y2="895"/><line x1="1740" y1="979" x2="2580" y2="979"/><line x1="1740" y1="1065" x2="2580" y2="1065"/><line x1="1740" y1="1151" x2="2580" y2="1151"/><line x1="1740" y1="1233" x2="2580" y2="1233"/>
<line x1="1740" y1="1351" x2="2580" y2="1351"/><line x1="1740" y1="1581" x2="2580" y2="1581"/>
</g>
<g font-size="27" fill="#222">
<text x="1740" y="484" textLength="143" lengthAdjust="spacingAndGlyphs">Component</text>
<text x="1997" y="484" textLength="136" lengthAdjust="spacingAndGlyphs">BA:TEMP.1</text>
<text x="1740" y="570" textLength="59" lengthAdjust="spacingAndGlyphs">Type</text>
<text x="2047" y="570" textLength="106" lengthAdjust="spacingAndGlyphs">Anomaly</text>
<text x="2162" y="570" fill="#8c8c8c" textLength="157" lengthAdjust="spacingAndGlyphs">- TrendMiner</text>
<text x="1740" y="654" textLength="142" lengthAdjust="spacingAndGlyphs">Description</text>
<text x="1740" y="741" textLength="122" lengthAdjust="spacingAndGlyphs">Keywords</text>
<text x="1740" y="948" textLength="89" lengthAdjust="spacingAndGlyphs">Started</text>
<text x="1997" y="948" textLength="273" lengthAdjust="spacingAndGlyphs">09/02/2022 09:31:24</text>
<text x="1740" y="1032" textLength="77" lengthAdjust="spacingAndGlyphs">Ended</text>
<text x="1997" y="1032" textLength="273" lengthAdjust="spacingAndGlyphs">09/02/2022 09:51:13</text>
<text x="1740" y="1118" font-weight="bold" textLength="172" lengthAdjust="spacingAndGlyphs">Total duration</text>
<text x="1837" y="1414" textLength="114" lengthAdjust="spacingAndGlyphs">bhoskens</text>
<text x="1966" y="1414" fill="#8c8c8c" textLength="180" lengthAdjust="spacingAndGlyphs">- Bart Hoskens</text>
<text x="1837" y="1454" fill="#8c8c8c" textLength="272" lengthAdjust="spacingAndGlyphs">09/02/2022 11:25:38</text>
<text x="1740" y="1642" textLength="221" lengthAdjust="spacingAndGlyphs">No comments yet.</text>
</g>
<polygon points="2014,543 2031,576 1997,576" fill="#f7941d"/>
<rect x="2012.5" y="553" width="3" height="12" fill="#fff"/><rect x="2012.5" y="568" width="3" height="3" fill="#fff"/>
<rect x="1997" y="711" width="94" height="42" rx="4" fill="#f4f4f4" stroke="#dedede" stroke-width="2"/>
<text x="2044" y="740" font-size="22" fill="#555" text-anchor="middle" textLength="58" lengthAdjust="spacingAndGlyphs">demo</text>
<text x="2456" y="946" font-size="21" fill="#9a9a9a" textLength="83" lengthAdjust="spacingAndGlyphs">19m 49s</text>
<circle cx="2564" cy="938" r="12" stroke="#9a9a9a" stroke-width="2" fill="none"/>
<polyline points="2564,931 2564,939 2569,943" stroke="#9a9a9a" stroke-width="2" fill="none"/>
<text x="2454" y="1116" font-size="22" font-weight="bold" fill="#222" textLength="84" lengthAdjust="spacingAndGlyphs">19m 49s</text>
<circle cx="2563" cy="1108" r="12" stroke="#9a9a9a" stroke-width="2" fill="none"/>
<polyline points="2563,1101 2563,1109 2568,1113" stroke="#9a9a9a" stroke-width="2" fill="none"/>
<rect x="1740" y="1185" width="840" height="15" rx="7.5" fill="#005eb8"/>
<circle cx="1780" cy="1424" r="40" fill="#fdc100"/>
<text x="1780" y="1434" font-size="28" fill="#fff" text-anchor="middle" textLength="39" lengthAdjust="spacingAndGlyphs">BH</text>
</svg>
</body></html>
